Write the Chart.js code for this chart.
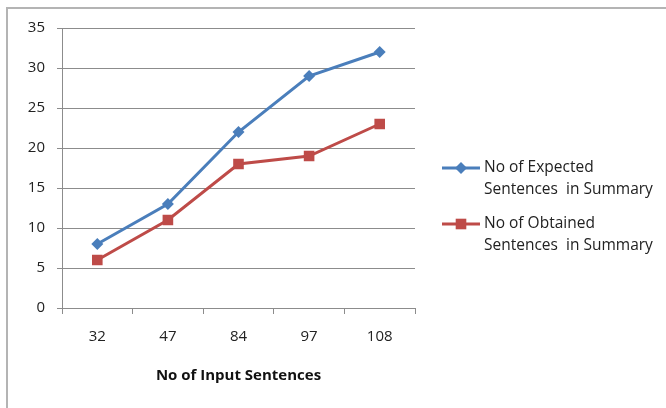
<!DOCTYPE html>
<html lang="en">
<head>
    <meta charset="UTF-8">
    <script src="https://cdn.jsdelivr.net/npm/chart.js"></script>
    <title>Sentences chart</title>
    <style>
        body { margin: 0; background: #fff; }
        .wrap { position: relative; width: 666px; height: 408px; }
        .frame { position: absolute; left: 6px; top: 7px; right: 0; bottom: 0;
                 border-top: 2px solid #b4b4b4; border-left: 2px solid #b4b4b4; }
        canvas { position: absolute; left: 0; top: 0; }
    </style>
</head>
<body>
    <div class="wrap">
        <div class="frame"></div>
        <canvas id="myChartCanvas" width="666" height="408"></canvas>
    </div>

    <script>
        // dados
        const categorias = ['32', '47', '84', '97', '108'];
        const esperadas = [8, 13, 22, 29, 32];
        const obtidas = [6, 11, 18, 19, 23];
        const legendaEsperadas = ['No of Expected', 'Sentences  in Summary'];
        const legendaObtidas = ['No of Obtained', 'Sentences  in Summary'];
        const tituloX = 'No of Input Sentences';

        const azul = '#4a7ebb';
        const vermelho = '#be4b48';
        const fonte = "'Open Sans', sans-serif";

        // legenda desenhada a mao, com duas linhas por item
        const legendaPlugin = {
            id: 'legendaMultilinha',
            afterDraw(chart) {
                const ctx = chart.ctx;
                const x0 = 442, x1 = 480, tx = 484;
                const itens = [
                    { y: 168, texto: legendaEsperadas, ds: chart.data.datasets[0] },
                    { y: 224, texto: legendaObtidas, ds: chart.data.datasets[1] }
                ];
                ctx.save();
                itens.forEach(item => {
                    ctx.strokeStyle = item.ds.borderColor;
                    ctx.lineWidth = 3;
                    ctx.beginPath();
                    ctx.moveTo(x0, item.y);
                    ctx.lineTo(x1, item.y);
                    ctx.stroke();
                    ctx.fillStyle = item.ds.pointBackgroundColor;
                    Chart.helpers.drawPoint(ctx, {
                        pointStyle: item.ds.pointStyle,
                        radius: item.ds.pointRadius,
                        borderWidth: 0
                    }, (x0 + x1) / 2, item.y);
                    ctx.fillStyle = '#222';
                    ctx.font = '15.5px ' + fonte;
                    ctx.textBaseline = 'middle';
                    ctx.textAlign = 'left';
                    item.texto.forEach((linha, i) => ctx.fillText(linha, tx, item.y + i * 22));
                });
                ctx.restore();
            }
        };

        const ctx = document.getElementById('myChartCanvas');
        new Chart(ctx, {
            type: 'line',
            data: {
                labels: categorias,
                datasets: [{
                    label: legendaEsperadas.join(' '),
                    data: esperadas,
                    borderColor: azul,
                    backgroundColor: azul,
                    pointBackgroundColor: azul,
                    pointBorderWidth: 0,
                    borderWidth: 3,
                    pointStyle: 'rectRot',
                    pointRadius: 6
                }, {
                    label: legendaObtidas.join(' '),
                    data: obtidas,
                    borderColor: vermelho,
                    backgroundColor: vermelho,
                    pointBackgroundColor: vermelho,
                    pointBorderWidth: 0,
                    borderWidth: 3,
                    pointStyle: 'rect',
                    pointRadius: 7.5
                }]
            },
            options: {
                responsive: false,
                animation: false,
                layout: { padding: { left: 0, top: 28, right: 251, bottom: 0 } },
                scales: {
                    x: {
                        offset: true,
                        afterFit: s => { s.height = 100; },
                        grid: {
                            offset: true,
                            drawOnChartArea: false,
                            color: '#8c8c8c',
                            tickLength: 6
                        },
                        border: { color: '#8c8c8c' },
                        ticks: { color: '#222', padding: 14, font: { family: fonte, size: 15 } },
                        title: {
                            display: true,
                            text: tituloX,
                            color: '#111',
                            font: { family: fonte, size: 15, weight: 'bold' },
                            padding: { top: 14, bottom: 23 }
                        }
                    },
                    y: {
                        min: 0,
                        max: 35,
                        afterFit: s => { s.width = 62; },
                        grid: { color: '#8c8c8c', tickLength: 5 },
                        border: { color: '#8c8c8c' },
                        ticks: { stepSize: 5, color: '#222', padding: 12, font: { family: fonte, size: 15 } }
                    }
                },
                plugins: {
                    legend: { display: false },
                    tooltip: { enabled: false }
                }
            },
            plugins: [legendaPlugin]
        });
    </script>
</body>
</html>
